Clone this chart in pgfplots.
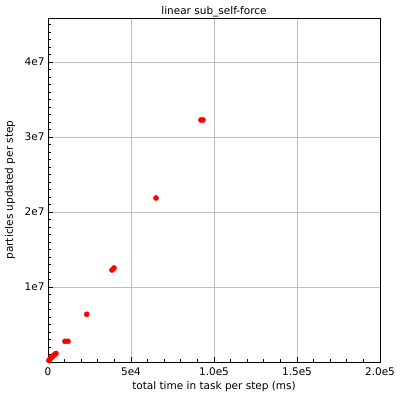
\documentclass[border=0pt]{standalone}
\usepackage{pgfplots}
\pgfplotsset{compat=1.18}
\usepackage{fontspec}
\setmainfont{DejaVu Sans}
\begin{document}
\begin{tikzpicture}
\useasboundingbox (0,0) rectangle (400pt,400pt);
\begin{axis}[
  at={(48pt,38pt)}, anchor=south west,
  scale only axis, width=332pt, height=344pt,
  xmin=0, xmax=200000, ymin=0, ymax=45870000,
  xtick={0,50000,100000,150000,200000},
  xticklabels={0,5e4,1.0e5,1.5e5,2.0e5},
  ytick={10000000,20000000,30000000,40000000},
  yticklabels={1e7,2e7,3e7,4e7},
  minor xtick={10000,20000,30000,40000,60000,70000,80000,90000,110000,120000,130000,140000,160000,170000,180000,190000},
  minor ytick={1000000,2000000,3000000,4000000,5000000,6000000,7000000,8000000,9000000,11000000,12000000,13000000,14000000,15000000,16000000,17000000,18000000,19000000,21000000,22000000,23000000,24000000,25000000,26000000,27000000,28000000,29000000,31000000,32000000,33000000,34000000,35000000,36000000,37000000,38000000,39000000,41000000,42000000,43000000,44000000,45000000},
  scaled ticks=false,
  tick align=inside,
  xtick pos=bottom, ytick pos=left,
  major tick length=5pt, minor tick length=3pt,
  tick style={black, line width=0.6pt},
  xmajorgrids, ymajorgrids,
  major grid style={color=black!25, line width=0.8pt},
  axis line style={black, line width=0.8pt},
  ticklabel style={font=\fontsize{10.5}{12}\selectfont},
  xticklabel style={yshift=-2pt},
  xlabel={total time in task per step (ms)},
  ylabel={particles updated per step},
  label style={font=\fontsize{10.5}{12}\selectfont},
  xlabel style={at={(axis description cs:0.5,0)}, anchor=center, yshift=-25pt},
  ylabel style={at={(axis description cs:-0.1145,0.5)}, anchor=center},
  every axis title shift=0pt,
  title={linear sub\_self-force},
  title style={font=\fontsize{10.5}{12}\selectfont, at={(axis description cs:0.5,1)}, anchor=base, yshift=4pt},
  clip=false,
]
\addplot[only marks, mark=*, mark size=2.6pt, color=red, mark options={draw=red, fill=red}] coordinates {
  (600,200000)
  (1200,400000)
  (1800,550000)
  (2400,670000)
  (3000,800000)
  (3600,930000)
  (4200,1030000)
  (4820,1130000)
  (10240,2760000)
  (12050,2760000)
  (23300,6360000)
  (38550,12270000)
  (39760,12530000)
  (65060,21870000)
  (92170,32270000)
  (93370,32270000)
};
\end{axis}
\end{tikzpicture}
\end{document}
